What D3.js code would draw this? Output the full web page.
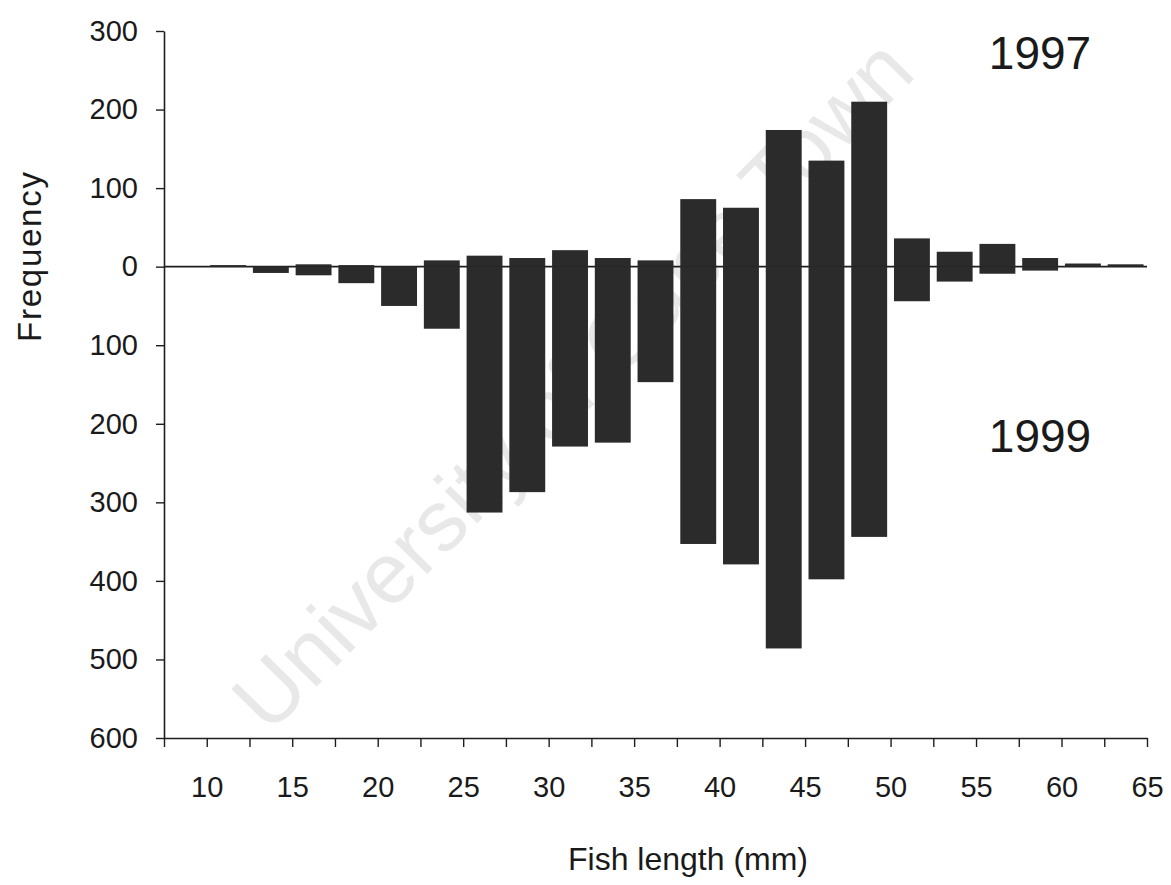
<!DOCTYPE html>
<html>
<head>
<meta charset="utf-8">
<script src="https://cdn.jsdelivr.net/npm/d3@7/dist/d3.min.js"></script>
<style>
  html, body { margin: 0; padding: 0; background: #fff; }
  svg { display: block; font-family: "Liberation Sans", Arial, sans-serif; }
</style>
</head>
<body>
<div id="chart"></div>
<script>
(function () {
    "use strict";

    const WIDTH = 1171;
    const HEIGHT = 885;
    const BAR_COLOR = "#2b2b2b";
    const AXIS_COLOR = "#1e1e1e";
    const TEXT_COLOR = "#1a1a1a";

    /* ---- length classes (lower edge, mm), 2.5 mm wide ---- */
    const binStart = [7.5, 10, 12.5, 15, 17.5, 20, 22.5, 25, 27.5, 30, 32.5, 35,
                      37.5, 40, 42.5, 45, 47.5, 50, 52.5, 55, 57.5, 60, 62.5];

    /* ---- frequencies: 1997 plotted up, 1999 plotted down ---- */
    const freq1997 = [0, 2, 0, 3, 2, 0, 8, 14, 11, 21, 11, 8,
                      86, 75, 174, 135, 210, 36, 19, 29, 11, 4, 3];
    const freq1999 = [0, 0, 8, 11, 21, 50, 79, 313, 287, 229, 224, 147,
                      353, 379, 486, 398, 344, 44, 19, 9, 5, 0, 0];

    /* ---- axis ticks ---- */
    const yTicks = [300, 200, 100, 0, -100, -200, -300, -400, -500, -600];
    const xTicks = [7.5, 10, 12.5, 15, 17.5, 20, 22.5, 25, 27.5, 30, 32.5, 35, 37.5,
                    40, 42.5, 45, 47.5, 50, 52.5, 55, 57.5, 60, 62.5, 65];
    const xLabels = [10, 15, 20, 25, 30, 35, 40, 45, 50, 55, 60, 65];

    const BIN_WIDTH = 2.5;
    const BAR_PAD = 0.2;

    var svg = d3.select("#chart").append("svg")
        .attr("width", WIDTH)
        .attr("height", HEIGHT);

    var x = d3.scaleLinear().domain([7.5, 65]).range([164, 1147]);
    var y = d3.scaleLinear().domain([-600, 300]).range([738, 31]);

    /* faint diagonal watermark behind the bars */
    svg.append("text")
        .attr("transform", "translate(572,384) rotate(-45.5)")
        .attr("text-anchor", "middle")
        .attr("dominant-baseline", "central")
        .attr("font-size", 86)
        .attr("fill", "#e8e8e8")
        .text("University of Cape Town");

    /* zero line */
    svg.append("line")
        .attr("x1", x(7.5)).attr("x2", x(65))
        .attr("y1", y(0)).attr("y2", y(0))
        .attr("stroke", AXIS_COLOR)
        .attr("stroke-width", 1.6);

    var rows = binStart.map(function (b, i) {
        return { start: b, up: freq1997[i], down: freq1999[i] };
    });

    var gBars = svg.append("g");

    /* 1997 above zero */
    gBars.selectAll("rect.up")
        .data(rows.filter(function (d) { return d.up > 0; }))
        .enter().append("rect")
        .attr("class", "up")
        .attr("x", function (d) { return x(d.start + BAR_PAD); })
        .attr("width", function (d) { return x(d.start + BIN_WIDTH - BAR_PAD) - x(d.start + BAR_PAD); })
        .attr("y", function (d) { return y(d.up); })
        .attr("height", function (d) { return y(0) - y(d.up); })
        .attr("fill", BAR_COLOR);

    /* 1999 below zero */
    gBars.selectAll("rect.down")
        .data(rows.filter(function (d) { return d.down > 0; }))
        .enter().append("rect")
        .attr("class", "down")
        .attr("x", function (d) { return x(d.start + BAR_PAD); })
        .attr("width", function (d) { return x(d.start + BIN_WIDTH - BAR_PAD) - x(d.start + BAR_PAD); })
        .attr("y", y(0))
        .attr("height", function (d) { return y(-d.down) - y(0); })
        .attr("fill", BAR_COLOR);

    /* y axis: counts shown without sign on both sides */
    var yAxis = svg.append("g")
        .attr("transform", "translate(" + x(7.5) + ",0)")
        .call(d3.axisLeft(y)
            .tickValues(yTicks)
            .tickSize(8)
            .tickSizeOuter(0)
            .tickPadding(18)
            .tickFormat(function (d) { return Math.abs(d); }));

    /* x axis: ticks every 2.5 mm, labels every 5 mm */
    var xAxis = svg.append("g")
        .attr("transform", "translate(0," + y(-600) + ")")
        .call(d3.axisBottom(x)
            .tickValues(xTicks)
            .tickSize(9)
            .tickSizeOuter(0)
            .tickPadding(29)
            .tickFormat(function (d) { return xLabels.indexOf(d) >= 0 ? d : ""; }));

    [yAxis, xAxis].forEach(function (g) {
        g.select(".domain").attr("stroke", AXIS_COLOR).attr("stroke-width", 1.6);
        g.selectAll(".tick line").attr("stroke", AXIS_COLOR).attr("stroke-width", 1.4);
        g.selectAll(".tick text")
            .attr("fill", TEXT_COLOR)
            .attr("font-size", 29)
            .attr("font-family", "'Liberation Sans', Arial, sans-serif");
    });

    /* axis titles */
    svg.append("text")
        .attr("transform", "translate(41,257) rotate(-90)")
        .attr("text-anchor", "middle")
        .attr("font-size", 33)
        .attr("textLength", 170)
        .attr("lengthAdjust", "spacing")
        .attr("fill", TEXT_COLOR)
        .text("Frequency");

    svg.append("text")
        .attr("x", 688).attr("y", 870)
        .attr("text-anchor", "middle")
        .attr("font-size", 32)
        .attr("fill", TEXT_COLOR)
        .text("Fish length (mm)");

    /* year labels */
    svg.append("text")
        .attr("x", 1040).attr("y", 69)
        .attr("text-anchor", "middle")
        .attr("font-size", 46)
        .attr("fill", TEXT_COLOR)
        .text("1997");

    svg.append("text")
        .attr("x", 1040).attr("y", 452)
        .attr("text-anchor", "middle")
        .attr("font-size", 46)
        .attr("fill", TEXT_COLOR)
        .text("1999");
})();
</script>
</body>
</html>
